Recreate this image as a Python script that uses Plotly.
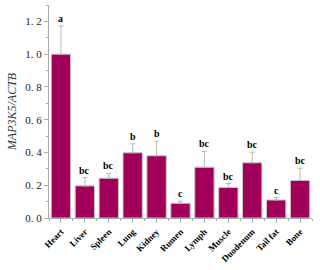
import plotly.graph_objects as go

categories = ["Heart", "Liver", "Spleen", "Lung", "Kidney", "Rumen", "Lymph",
              "Muscle", "Duodenum", "Tail fat", "Bone"]
values = [1.00, 0.196, 0.243, 0.398, 0.380, 0.090, 0.310, 0.186, 0.337, 0.110, 0.229]
err_top = [1.173, 0.247, 0.272, 0.453, 0.469, 0.102, 0.406, 0.210, 0.402, 0.125, 0.304]
letters = ["a", "bc", "bc", "b", "b", "c", "bc", "bc", "bc", "c", "bc"]
ytick_vals = [0, 0.2, 0.4, 0.6, 0.8, 1.0, 1.2]
ytick_text = ["0. 0", "0. 2", "0. 4", "0. 6", "0. 8", "1. 0", "1. 2"]

xpos = list(range(len(categories)))
errs = [t - v for t, v in zip(err_top, values)]

fig = go.Figure()
fig.add_trace(go.Bar(
    x=xpos, y=values, width=0.81,
    marker=dict(color="#A0005A", line=dict(color="#c8c8c8", width=1)),
    error_y=dict(type="data", symmetric=False, array=errs,
                 arrayminus=[0] * len(values), color="#b8b8b8",
                 thickness=1, width=2.5),
))

for x, t, lab in zip(xpos, err_top, letters):
    fig.add_annotation(x=x, y=t, text=lab, showarrow=False, yanchor="bottom",
                       yshift=0, font=dict(family="Liberation Serif", size=10,
                                           color="black", weight="bold"))

serif = "Liberation Serif"
fig.update_layout(
    width=320, height=270,
    margin=dict(l=49, r=8, t=5, b=52, autoexpand=False),
    paper_bgcolor="white", plot_bgcolor="white",
    showlegend=False,
    font=dict(family=serif, color="black"),
)
fig.update_xaxes(
    range=[-0.5, 10.5], tickvals=xpos, ticktext=categories, tickangle=-45,
    automargin=False,
    tickfont=dict(family=serif, size=9, weight="bold", color="black"),
    showline=True, linecolor="#aaaaaa", linewidth=1, showgrid=False,
    zeroline=False, ticks="outside", ticklen=4, tickcolor="#aaaaaa",
    minor=dict(tick0=0.5, dtick=1, ticks="outside", ticklen=2, tickcolor="#aaaaaa"),
)
fig.update_yaxes(
    range=[0, 1.3], tickvals=ytick_vals, ticktext=ytick_text,
    automargin=False,
    tickfont=dict(family=serif, size=11, color="#222222"),
    showline=True, linecolor="#aaaaaa", linewidth=1, showgrid=False,
    zeroline=False, ticks="outside", ticklen=4, tickcolor="#aaaaaa",
    minor=dict(tick0=0, dtick=0.1, ticks="outside", ticklen=2, tickcolor="#aaaaaa"),
    title=dict(text="<i>MAP3K5/ACTB</i>", font=dict(family=serif, size=12,
                                                     color="#333333"), standoff=6),
)

fig.write_html("out.html", config={"displayModeBar": False},
               post_script="document.body.style.margin='0px';")
